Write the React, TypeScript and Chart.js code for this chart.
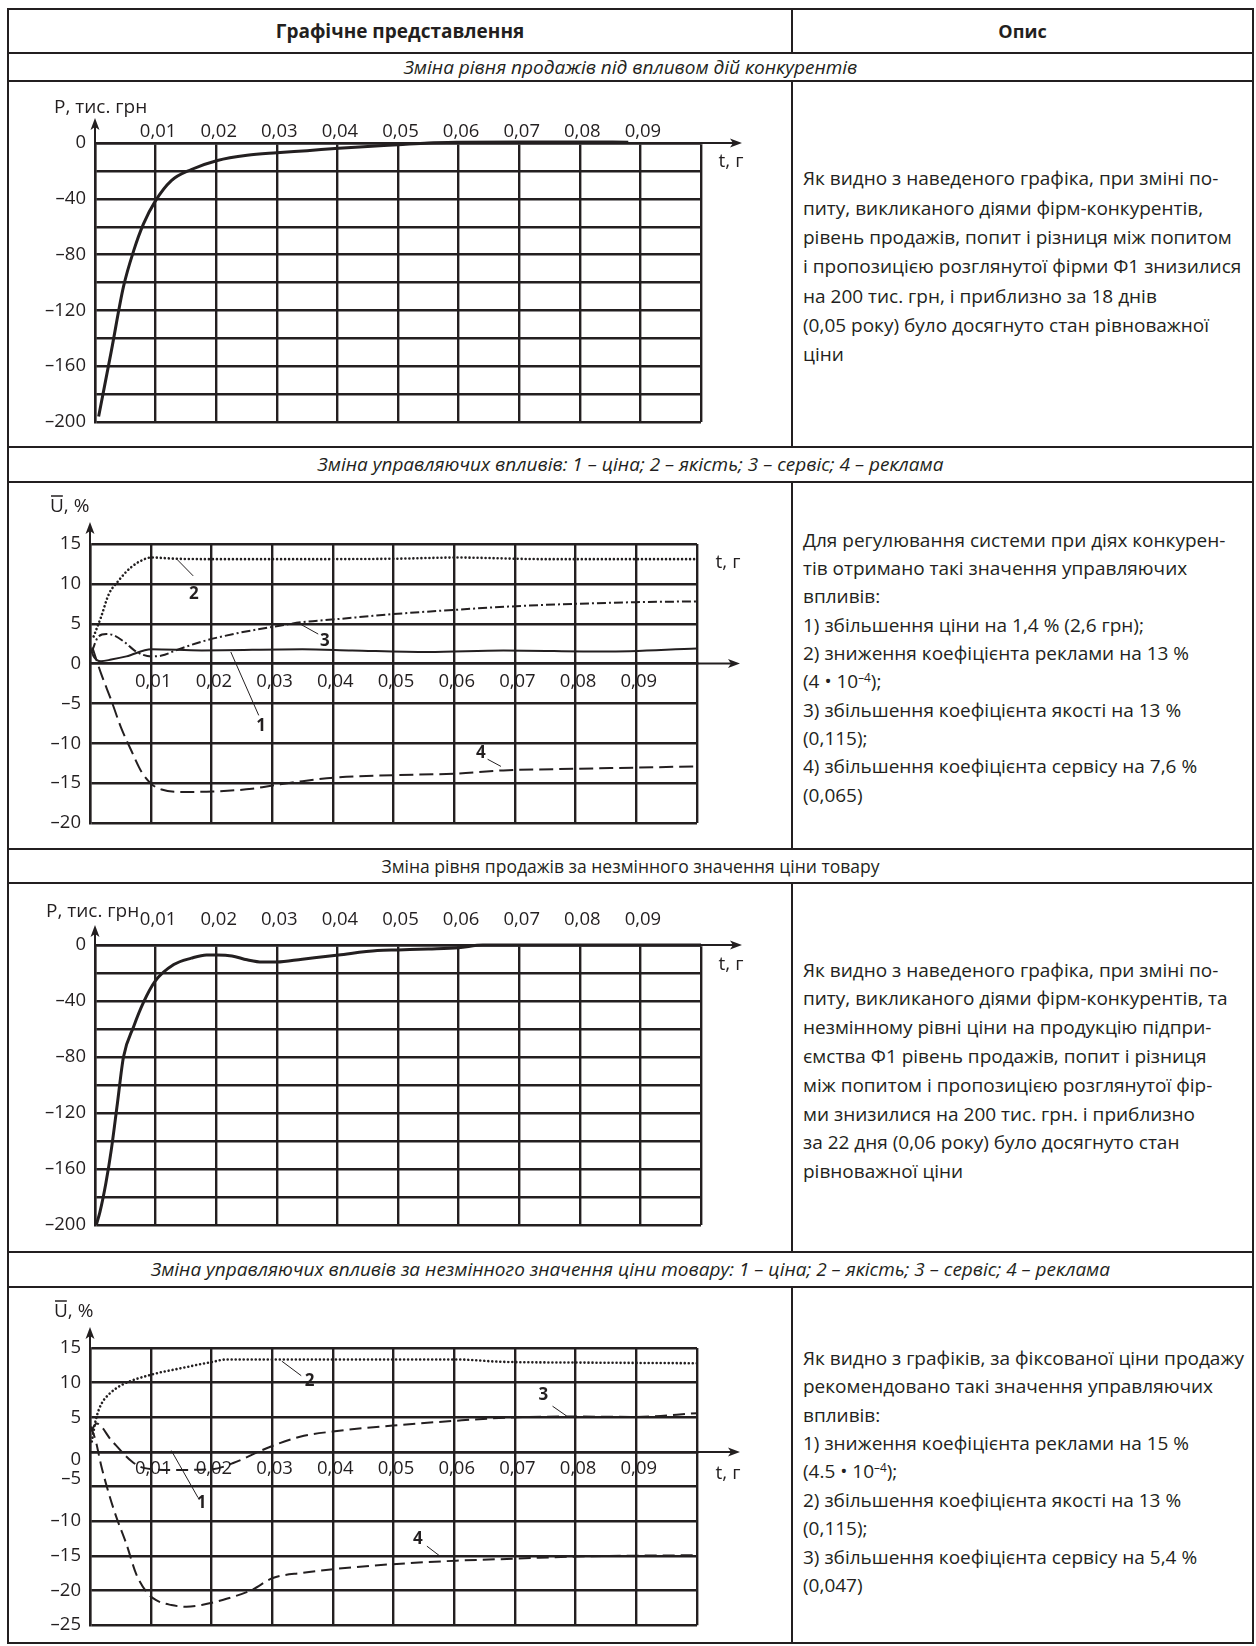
import React, { useEffect, useRef } from 'react';
import { Chart, registerables } from 'chart.js';

Chart.register(...registerables);

const INK = '#231f20';
const FONT = "'Open Sans', 'Noto Sans', 'DejaVu Sans', sans-serif";

// ---------- shared time axis ----------
const timeGrid = [0, 0.01, 0.02, 0.03, 0.04, 0.05, 0.06, 0.07, 0.08, 0.09, 0.1];
const timeLabels = ['', '0,01', '0,02', '0,03', '0,04', '0,05', '0,06', '0,07', '0,08', '0,09', ''];

// ---------- sales axis (charts 1 and 3) ----------
const salesGrid = [0, -20, -40, -60, -80, -100, -120, -140, -160, -180, -200];
const salesLabels: (string | string[])[] = ['0', '', '–40', '', '–80', '', '–120', '', '–160', '', '–200'];

// ---------- chart 1: sales under competitors' actions ----------
const sales1T = [0.0006, 0.0027, 0.0047, 0.0064, 0.008, 0.0099, 0.0126, 0.0159, 0.0202, 0.0251, 0.03, 0.035, 0.0402, 0.045, 0.05, 0.055, 0.06, 0.07, 0.08, 0.088];
const sales1P = [-196, -149, -103, -77, -58, -42, -27, -19, -12.5, -8.8, -7, -5.5, -3.8, -2.5, -1.3, 0, 0.5, 0.8, 0.8, 0.6];

// ---------- chart 2: control actions ----------
const control2Grid = [15, 10, 5, 0, -5, -10, -15, -20];
const control2Labels: (string | string[])[] = ['15', '10', '5', '0', '–5', '–10', '–15', '–20'];

const c2PriceT = [0, 0.0006, 0.0018, 0.0035, 0.006, 0.0101, 0.0184, 0.035, 0.0432, 0.0557, 0.0681, 0.0847, 0.1];
const c2PriceU = [2.1, 0.9, 0.3, 0.5, 0.9, 1.8, 1.65, 1.8, 1.65, 1.45, 1.65, 1.5, 1.9];

const c2QualityT = [0.0006, 0.0018, 0.0031, 0.0047, 0.0068, 0.0093, 0.0101, 0.0143, 0.0202, 0.035, 0.05, 0.0603, 0.075, 0.09, 0.1];
const c2QualityU = [3.4, 5.8, 8.7, 10.4, 12.1, 13.2, 13.3, 13.15, 13.1, 13.1, 13.15, 13.3, 13.1, 13.1, 13.1];

const c2ServiceT = [0.0003, 0.0014, 0.0027, 0.0039, 0.0056, 0.0076, 0.0101, 0.0118, 0.0143, 0.0184, 0.0242, 0.0301, 0.035, 0.0403, 0.0499, 0.0603, 0.0702, 0.0801, 0.0899, 0.1];
const c2ServiceU = [1.5, 3.4, 3.7, 3.55, 2.75, 1.5, 0.9, 1.0, 1.7, 2.75, 3.8, 4.6, 5.2, 5.55, 6.2, 6.75, 7.2, 7.5, 7.7, 7.8];

const c2AdT = [0.0004, 0.0018, 0.0035, 0.0051, 0.0068, 0.0085, 0.0101, 0.0118, 0.0151, 0.0202, 0.0267, 0.0301, 0.035, 0.0403, 0.0499, 0.0603, 0.0681, 0.0801, 0.1];
const c2AdU = [2.0, -1.2, -4.6, -8.0, -10.9, -13.6, -15.1, -15.8, -16.1, -16.05, -15.7, -15.3, -14.75, -14.3, -14.0, -13.8, -13.4, -13.2, -12.9];

const c2Callouts = [
  { text: '2', at: [0.0171, 8.7], from: [0.0143, 13.1], to: [0.017, 11.0] },
  { text: '3', at: [0.0387, 2.8], from: [0.0343, 5.1], to: [0.0376, 3.7] },
  { text: '1', at: [0.0282, -7.9], from: [0.0232, 1.45], to: [0.0278, -6.5] },
  { text: '4', at: [0.0644, -11.3], from: [0.0677, -12.9], to: [0.0655, -12.0] },
];

// ---------- chart 3: sales at fixed price ----------
const sales3T = [0.0002, 0.0008, 0.0018, 0.0027, 0.0037, 0.0047, 0.0064, 0.008, 0.0099, 0.013, 0.0159, 0.0184, 0.0202, 0.0226, 0.0251, 0.0276, 0.03, 0.0342, 0.0402, 0.0466, 0.05, 0.055, 0.06, 0.064, 0.07, 0.08, 0.09, 0.1];
const sales3P = [-200, -191, -170, -146, -113, -80, -58, -41, -26, -14, -9.4, -7.1, -7.1, -7.8, -10.6, -12.2, -12.2, -10.1, -7.1, -4, -3.5, -2.8, -1.9, 0, 0, 0, 0, 0];

// ---------- chart 4: control actions at fixed price ----------
const control4Grid = [15, 10, 5, 0, -5, -10, -15, -20, -25];
const control4Labels: (string | string[])[] = ['15', '10', '5', ['', '0'], ['–5', ''], '–10', '–15', '–20', '–25'];

const c4PriceT = [0, 0.1];
const c4PriceU = [0, 0];

const c4QualityT = [0.0003, 0.001, 0.0018, 0.0031, 0.0051, 0.0101, 0.0151, 0.0202, 0.0225, 0.035, 0.05, 0.0603, 0.0681, 0.08, 0.1];
const c4QualityU = [1.5, 4.8, 6.8, 8.3, 9.6, 11.15, 12.1, 13.0, 13.35, 13.35, 13.35, 13.35, 13.0, 12.9, 12.8];

const c4ServiceT = [0.00017, 0.0011, 0.0035, 0.0068, 0.0088, 0.0137, 0.0202, 0.0236, 0.029, 0.0346, 0.04, 0.0499, 0.0603, 0.0702, 0.0801, 0.0899, 0.1];
const c4ServiceU = [3.0, 4.1, 1.7, -1.3, -2.3, -2.6, -2.5, -1.6, 0.5, 2.2, 2.95, 3.8, 4.5, 5.0, 5.1, 5.05, 5.6];

const c4AdT = [0.00017, 0.001, 0.0018, 0.0031, 0.0043, 0.006, 0.0076, 0.0093, 0.0109, 0.0134, 0.0159, 0.0184, 0.0225, 0.0267, 0.0301, 0.035, 0.0403, 0.0499, 0.0603, 0.0702, 0.0801, 0.1];
const c4AdU = [3.65, 1.4, -1.8, -6.0, -9.3, -13.3, -17.6, -20.2, -21.4, -22.1, -22.35, -22.1, -21.2, -19.9, -18.2, -17.45, -16.9, -16.2, -15.7, -15.4, -15.1, -14.9];

const c4Callouts = [
  { text: '2', at: [0.0362, 10.15], from: [0.0316, 13.1], to: [0.0348, 11.0] },
  { text: '3', at: [0.0747, 8.25], from: [0.0785, 5.2], to: [0.0762, 6.6] },
  { text: '4', at: [0.054, -12.65], from: [0.0576, -15.0], to: [0.0555, -13.6] },
  { text: '1', at: [0.0184, -7.4], from: [0.0134, 0.2], to: [0.0178, -6.6] },
];

// ---------- texts ----------
const headerLeft = 'Графічне представлення';
const headerRight = 'Опис';
const rowTitles = [
  'Зміна рівня продажів під впливом дій конкурентів',
  'Зміна управляючих впливів: 1 – ціна; 2 – якість; 3 – сервіс; 4 – реклама',
  'Зміна рівня продажів за незмінного значення ціни товару',
  'Зміна управляючих впливів за незмінного значення ціни товару: 1 – ціна; 2 – якість; 3 – сервіс; 4 – реклама',
];

const desc1 = [
  'Як видно з наведеного графіка, при зміні по-',
  'питу, викликаного діями фірм-конкурентів,',
  'рівень продажів, попит і різниця між попитом',
  'і пропозицією розглянутої фірми Ф1 знизилися',
  'на 200 тис. грн, і приблизно за 18 днів',
  '(0,05 року) було досягнуто стан рівноважної',
  'ціни',
];
const desc2 = [
  'Для регулювання системи при діях конкурен-',
  'тів отримано такі значення управляючих',
  'впливів:',
  '1) збільшення ціни на 1,4 % (2,6 грн);',
  '2) зниження коефіцієнта реклами на 13 %',
  '(4 • 10^–4);',
  '3) збільшення коефіцієнта якості на 13 %',
  '(0,115);',
  '4) збільшення коефіцієнта сервісу на 7,6 %',
  '(0,065)',
];
const desc3 = [
  'Як видно з наведеного графіка, при зміні по-',
  'питу, викликаного діями фірм-конкурентів, та',
  'незмінному рівні ціни на продукцію підпри-',
  'ємства Ф1 рівень продажів, попит і різниця',
  'між попитом і пропозицією розглянутої фір-',
  'ми знизилися на 200 тис. грн. і приблизно',
  'за 22 дня (0,06 року) було досягнуто стан',
  'рівноважної ціни',
];
const desc4 = [
  'Як видно з графіків, за фіксованої ціни продажу',
  'рекомендовано такі значення управляючих',
  'впливів:',
  '1) зниження коефіцієнта реклами на 15 %',
  '(4.5 • 10^–4);',
  '2) збільшення коефіцієнта якості на 13 %',
  '(0,115);',
  '3) збільшення коефіцієнта сервісу на 5,4 %',
  '(0,047)',
];

// ---------- chart machinery ----------
type Series = { t: number[]; v: number[]; width: number; dash?: number[]; cap?: CanvasLineCap };
type Callout = { text: string; at: number[]; from: number[]; to: number[] };
type Spec = {
  canvas: { x: number; y: number; w: number; h: number };
  plot: { l: number; t: number; r: number; b: number };
  yMin: number; yMax: number; yGrid: number[]; yLabels: (string | string[])[]; yLineHeight: number;
  xTop: boolean; xLabelPad: number;
  series: Series[];
  callouts: Callout[];
  axisTitle: string; overline: boolean; titleDX: number; titleDY: number;
  tDX: number; tDY: number; arrowUp: number; arrowRight: number;
};

function labelFor(grid: number[], labels: (string | string[])[], v: number) {
  const i = grid.findIndex((g) => Math.abs(g - v) < 1e-9);
  return i >= 0 ? labels[i] : '';
}

const GRID_W = 2.4;

function buildConfig(spec: Spec): any {
  const { canvas: c, plot: p } = spec;
  const tickFont = { family: FONT, size: 18.5 };
  const decor = {
    id: 'decor',
    afterDraw(chart: any) {
      const ctx = chart.ctx as CanvasRenderingContext2D;
      const xs = chart.scales.x;
      const ys = chart.scales.y;
      const area = chart.chartArea;
      const x0 = xs.getPixelForValue(0);
      const y0 = ys.getPixelForValue(0);
      ctx.save();
      ctx.strokeStyle = INK;
      ctx.fillStyle = INK;
      ctx.lineWidth = 2;
      // y arrow
      const yTip = area.top - spec.arrowUp;
      ctx.beginPath();
      ctx.moveTo(x0, area.top);
      ctx.lineTo(x0, yTip + 6);
      ctx.stroke();
      ctx.beginPath();
      ctx.moveTo(x0, yTip);
      ctx.lineTo(x0 - 4.5, yTip + 12);
      ctx.lineTo(x0, yTip + 9);
      ctx.lineTo(x0 + 4.5, yTip + 12);
      ctx.closePath();
      ctx.fill();
      // x arrow
      const xTip = area.right + spec.arrowRight;
      ctx.beginPath();
      ctx.moveTo(area.right, y0);
      ctx.lineTo(xTip - 6, y0);
      ctx.stroke();
      ctx.beginPath();
      ctx.moveTo(xTip, y0);
      ctx.lineTo(xTip - 12, y0 - 4.5);
      ctx.lineTo(xTip - 9, y0);
      ctx.lineTo(xTip - 12, y0 + 4.5);
      ctx.closePath();
      ctx.fill();
      // axis title
      ctx.font = `19px ${FONT}`;
      ctx.textBaseline = 'middle';
      ctx.textAlign = 'left';
      const tx = area.left + spec.titleDX;
      const ty = area.top + spec.titleDY;
      ctx.fillText(spec.axisTitle, tx, ty);
      if (spec.overline) {
        const w = ctx.measureText('U').width;
        ctx.lineWidth = 1.5;
        ctx.beginPath();
        ctx.moveTo(tx + 1, ty - 11);
        ctx.lineTo(tx + w - 1, ty - 11);
        ctx.stroke();
      }
      // t label
      ctx.textAlign = 'center';
      ctx.fillText('t, г', xTip + spec.tDX, y0 + spec.tDY);
      // callouts
      ctx.lineWidth = 1;
      ctx.font = `bold 17px ${FONT}`;
      for (const co of spec.callouts) {
        ctx.beginPath();
        ctx.moveTo(xs.getPixelForValue(co.from[0]), ys.getPixelForValue(co.from[1]));
        ctx.lineTo(xs.getPixelForValue(co.to[0]), ys.getPixelForValue(co.to[1]));
        ctx.stroke();
        ctx.fillText(co.text, xs.getPixelForValue(co.at[0]), ys.getPixelForValue(co.at[1]));
      }
      ctx.restore();
    },
  };

  return {
    type: 'line',
    data: {
      datasets: spec.series.map((s) => ({
        data: s.t.map((t, i) => ({ x: t, y: s.v[i] })),
        borderColor: INK,
        borderWidth: s.width,
        borderDash: s.dash || [],
        borderCapStyle: s.cap || 'butt',
        pointRadius: 0,
        fill: false,
        cubicInterpolationMode: 'monotone',
        clip: false,
      })),
    },
    options: {
      responsive: false,
      animation: false,
      events: [],
      layout: {
        padding: {
          left: 0,
          top: spec.xTop ? 0 : p.t - c.y,
          right: c.x + c.w - p.r,
          bottom: c.y + c.h - p.b,
        },
      },
      plugins: { legend: { display: false }, tooltip: { enabled: false } },
      scales: {
        x: {
          type: 'linear',
          min: 0,
          max: 0.1,
          position: spec.xTop ? 'top' : { y: 0 },
          afterFit: (s: any) => {
            s.height = spec.xTop ? p.t - c.y : 0;
          },
          afterBuildTicks: (s: any) => {
            s.ticks = timeGrid.map((v) => ({ value: v }));
          },
          ticks: {
            autoSkip: false,
            maxRotation: 0,
            minRotation: 0,
            labelOffset: 2.5,
            padding: spec.xLabelPad,
            color: INK,
            font: tickFont,
            callback: (v: number) => labelFor(timeGrid, timeLabels, v),
          },
          grid: { color: INK, lineWidth: GRID_W, drawTicks: false },
          border: { display: true, color: INK, width: GRID_W },
        },
        y: {
          type: 'linear',
          min: spec.yMin,
          max: spec.yMax,
          position: 'left',
          afterFit: (s: any) => {
            s.width = p.l - c.x;
          },
          afterBuildTicks: (s: any) => {
            s.ticks = [...spec.yGrid].sort((a, b) => a - b).map((v) => ({ value: v }));
          },
          ticks: {
            autoSkip: false,
            padding: 9,
            color: INK,
            font: { ...tickFont, lineHeight: spec.yLineHeight },
            callback: (v: number) => labelFor(spec.yGrid, spec.yLabels, v),
          },
          grid: { color: INK, lineWidth: GRID_W, drawTicks: false },
          border: { display: true, color: INK, width: GRID_W },
        },
      },
    },
    plugins: [decor],
  };
}

function ChartCanvas({ spec }: { spec: Spec }) {
  const ref = useRef<HTMLCanvasElement | null>(null);
  useEffect(() => {
    if (!ref.current) return;
    const chart = new Chart(ref.current, buildConfig(spec));
    return () => chart.destroy();
  }, []);
  const c = spec.canvas;
  return (
    <canvas
      ref={ref}
      width={c.w}
      height={c.h}
      style={{ position: 'absolute', left: c.x, top: c.y, width: c.w, height: c.h, display: 'block' }}
    />
  );
}

const spec1: Spec = {
  canvas: { x: 10, y: 82, w: 781, h: 364 },
  plot: { l: 95, t: 143, r: 701, b: 422 },
  yMin: -200, yMax: 0, yGrid: salesGrid, yLabels: salesLabels, yLineHeight: 1.2,
  xTop: true, xLabelPad: 0,
  series: [{ t: sales1T, v: sales1P, width: 3 }],
  callouts: [],
  axisTitle: 'Р, тис. грн', overline: false, titleDX: -41, titleDY: -35,
  tDX: -11, tDY: 19, arrowUp: 25, arrowRight: 41,
};

const spec2: Spec = {
  canvas: { x: 10, y: 483, w: 781, h: 365 },
  plot: { l: 90, t: 544, r: 697, b: 823 },
  yMin: -20, yMax: 15, yGrid: control2Grid, yLabels: control2Labels, yLineHeight: 1.2,
  xTop: false, xLabelPad: 7,
  series: [
    { t: c2PriceT, v: c2PriceU, width: 2 },
    { t: c2QualityT, v: c2QualityU, width: 2.6, dash: [0.01, 4], cap: 'round' },
    { t: c2ServiceT, v: c2ServiceU, width: 2, dash: [9, 3, 2, 3] },
    { t: c2AdT, v: c2AdU, width: 2, dash: [14, 6] },
  ],
  callouts: c2Callouts,
  axisTitle: 'U, %', overline: true, titleDX: -40, titleDY: -37,
  tDX: -12, tDY: -101, arrowUp: 22, arrowRight: 43,
};

const spec3: Spec = {
  canvas: { x: 10, y: 884, w: 781, h: 367 },
  plot: { l: 95, t: 945, r: 701, b: 1225 },
  yMin: -200, yMax: 0, yGrid: salesGrid, yLabels: salesLabels, yLineHeight: 1.2,
  xTop: true, xLabelPad: 14,
  series: [{ t: sales3T, v: sales3P, width: 3 }],
  callouts: [],
  axisTitle: 'Р, тис. грн', overline: false, titleDX: -49, titleDY: -33,
  tDX: -11, tDY: 20, arrowUp: 20, arrowRight: 41,
};

const spec4: Spec = {
  canvas: { x: 10, y: 1288, w: 781, h: 354 },
  plot: { l: 90, t: 1348, r: 697, b: 1628 },
  yMin: -25, yMax: 15, yGrid: control4Grid, yLabels: control4Labels, yLineHeight: 0.85,
  xTop: false, xLabelPad: 6,
  series: [
    { t: c4PriceT, v: c4PriceU, width: 2 },
    { t: c4QualityT, v: c4QualityU, width: 2.6, dash: [0.01, 4], cap: 'round' },
    { t: c4ServiceT, v: c4ServiceU, width: 2, dash: [12, 6] },
    { t: c4AdT, v: c4AdU, width: 2, dash: [12, 6] },
  ],
  callouts: c4Callouts,
  axisTitle: 'U, %', overline: true, titleDX: -36, titleDY: -36,
  tDX: -12, tDY: 22, arrowUp: 21, arrowRight: 43,
};

// ---------- table geometry ----------
const TL = 8;
const TR = 1253;
const COL = 792;
const BW = 2.4;
const hLines = [9, 53, 81, 447, 482, 849, 883, 1252, 1287, 1643];
const colSegments = [[9, 53], [81, 447], [482, 849], [883, 1252], [1287, 1643]];
const titleRows = [[53, 81], [447, 482], [849, 883], [1252, 1287]];
const titleItalic = [true, true, false, true];
const descBlocks = [
  { lines: desc1, first: 179, lh: 29.3 },
  { lines: desc2, first: 540, lh: 28.3 },
  { lines: desc3, first: 970, lh: 28.8 },
  { lines: desc4, first: 1358, lh: 28.4 },
];

function renderLine(s: string) {
  const k = s.indexOf('^');
  if (k < 0) return s;
  const rest = s.slice(k + 1);
  const m = rest.indexOf(')');
  return (
    <>
      {s.slice(0, k)}
      <sup style={{ fontSize: '0.62em', lineHeight: 0, verticalAlign: '0.55em' }}>{rest.slice(0, m)}</sup>
      {rest.slice(m)}
    </>
  );
}

export default function App() {
  const base: React.CSSProperties = { position: 'absolute', background: INK };
  return (
    <div
      style={{
        position: 'absolute',
        left: 0,
        top: 0,
        width: 1256,
        height: 1646,
        background: '#fff',
        color: INK,
        fontFamily: FONT,
        overflow: 'hidden',
      }}
    >
      {/* header */}
      <div style={{ position: 'absolute', left: TL, top: 9, width: COL - TL, height: 44, lineHeight: '44px', textAlign: 'center', fontWeight: 700, fontSize: 19 }}>
        {headerLeft}
      </div>
      <div style={{ position: 'absolute', left: COL, top: 9, width: TR - COL, height: 44, lineHeight: '44px', textAlign: 'center', fontWeight: 700, fontSize: 18 }}>
        {headerRight}
      </div>
      {/* title rows */}
      {titleRows.map(([a, b], i) => (
        <div
          key={'t' + i}
          style={{
            position: 'absolute',
            left: TL,
            top: a,
            width: TR - TL,
            height: b - a,
            lineHeight: `${b - a}px`,
            textAlign: 'center',
            fontStyle: titleItalic[i] ? 'italic' : 'normal',
            fontSize: titleItalic[i] ? 19 : 17.5,
            whiteSpace: 'nowrap',
          }}
        >
          {rowTitles[i]}
        </div>
      ))}
      {/* descriptions */}
      {descBlocks.map((blk, i) => (
        <div key={'d' + i} style={{ position: 'absolute', left: 803, top: blk.first - blk.lh / 2, fontSize: 19 }}>
          {blk.lines.map((ln, j) => (
            <div key={j} style={{ height: blk.lh, lineHeight: `${blk.lh}px`, whiteSpace: 'nowrap' }}>
              {renderLine(ln)}
            </div>
          ))}
        </div>
      ))}
      {/* charts */}
      <ChartCanvas spec={spec1} />
      <ChartCanvas spec={spec2} />
      <ChartCanvas spec={spec3} />
      <ChartCanvas spec={spec4} />
      {/* borders */}
      {hLines.map((y, i) => (
        <div key={'h' + i} style={{ ...base, left: TL - BW / 2, top: y - BW / 2, width: TR - TL + BW, height: BW }} />
      ))}
      <div style={{ ...base, left: TL - BW / 2, top: 9 - BW / 2, width: BW, height: 1643 - 9 + BW }} />
      <div style={{ ...base, left: TR - BW / 2, top: 9 - BW / 2, width: BW, height: 1643 - 9 + BW }} />
      {colSegments.map(([a, b], i) => (
        <div key={'v' + i} style={{ ...base, left: COL - BW / 2, top: a, width: BW, height: b - a }} />
      ))}
    </div>
  );
}
